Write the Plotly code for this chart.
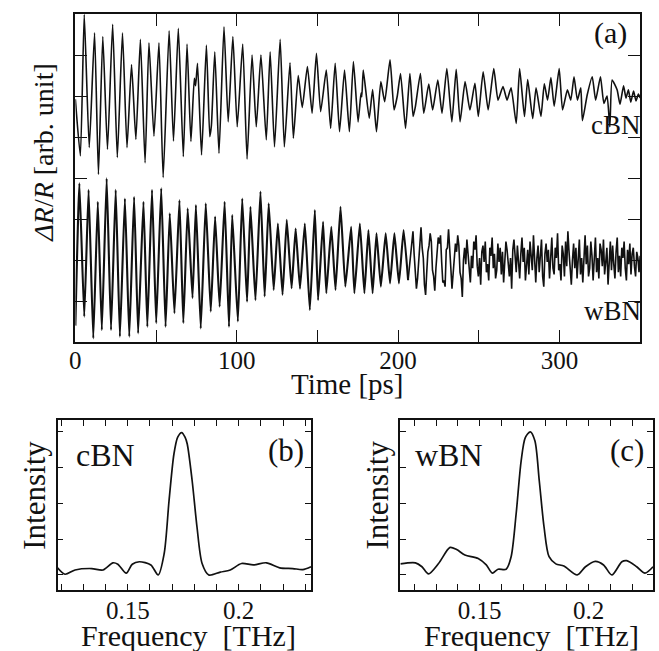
import plotly.graph_objects as go

# ---------------- data ----------------
# (a) time-domain traces, delta R / R (arb. units, tick spacing = 1)
cbn_t = [0.0, 3.1, 5.5, 8.6, 11.9, 14.3, 17.0, 19.9, 23.1, 26.0,
         29.2, 32.0, 34.8, 37.5, 40.3, 43.2, 45.6, 48.7, 51.8, 54.4,
         58.1, 60.8, 63.8, 66.9, 69.2, 71.6, 73.7, 74.5, 75.7, 78.2,
         81.2, 83.3, 84.3, 86.4, 89.0, 92.1, 94.7, 97.6, 100.3, 103.7,
         106.4, 109.5, 112.1, 115.0, 118.3, 120.7, 123.4, 126.9, 129.5, 133.0,
         135.1, 138.1, 140.6, 143.8, 146.7, 149.4, 152.0, 155.5, 158.2, 161.0,
         163.7, 166.8, 169.8, 172.3, 175.2, 177.0, 177.5, 178.4, 182.1, 184.2,
         186.6, 189.3, 191.7, 195.0, 197.5, 199.5, 201.5, 204.6, 207.3, 209.3,
         210.7, 213.8, 215.9, 219.0, 221.4, 224.6, 227.2, 230.2, 233.3, 236.0,
         238.4, 241.5, 244.5, 247.6, 249.7, 252.7, 255.8, 259.3, 261.9, 265.0,
         267.5, 270.0, 273.2, 275.3, 278.3, 280.3, 283.4, 285.5, 288.5, 290.6,
         292.6, 294.7, 296.7, 299.8, 301.9, 304.9, 307.0, 309.0, 311.1, 313.2,
         314.2, 317.2, 320.3, 322.4, 325.4, 327.5, 329.5, 331.2, 332.6, 335.7,
         337.5, 339.7, 341.2, 342.7, 344.2, 345.9, 347.4, 348.9, 350.0]
cbn_v = [-0.08, -1.46, 1.99, -1.26, 1.54, -1.91, 1.45, -1.30, 1.75, -1.50,
         1.54, -1.26, 0.77, -1.06, 1.38, -1.63, 1.30, -0.98, 1.30, -1.99,
         1.59, -1.10, 1.65, -1.48, 1.27, -1.11, 0.43, 0.25, 0.80, -1.44,
         1.24, -0.99, -0.72, 1.08, -1.40, 1.69, -0.63, 1.45, -0.75, 1.27,
         -1.54, 1.00, -0.75, 1.00, -1.07, 1.08, -1.24, 1.38, -1.24, 0.81,
         -1.03, 0.50, -0.28, 0.72, -0.42, 1.04, -0.38, 0.63, -0.79, 0.80,
         -0.87, 0.63, -0.87, 0.84, -0.63, 0.07, -0.02, 0.63, -0.54, 0.16,
         -0.87, 0.35, -0.14, 0.88, -0.34, 0.00, 0.55, -0.79, 0.55, -0.50,
         -0.26, 0.55, -0.42, 0.29, -0.34, 0.39, -0.42, 0.67, -0.63, 0.65,
         -0.63, 0.35, -0.34, 0.31, -0.50, 0.59, -0.34, 0.67, -0.10, 0.23,
         -0.10, 0.20, -0.67, 0.67, -0.50, 0.40, -0.55, 0.20, -0.50, 0.30,
         -0.10, 0.45, -0.25, 0.67, -0.34, 0.15, -0.10, 0.47, -0.10, 0.20,
         -0.60, 0.03, 0.47, -0.10, 0.47, -0.18, 0.00, -0.75, 0.39, 0.15,
         -0.20, 0.25, -0.05, 0.15, -0.15, 0.12, -0.12, 0.05, -0.05]

wbn_t = [0.0, 2.5, 5.5, 8.2, 11.1, 13.9, 16.4, 19.4, 22.1, 25.0,
         27.6, 30.7, 33.4, 36.4, 38.9, 42.2, 44.6, 47.5, 50.1, 53.2,
         55.9, 58.5, 61.4, 64.5, 66.9, 69.6, 72.6, 74.7, 77.7, 80.8,
         83.9, 86.6, 89.4, 92.5, 95.2, 97.2, 100.7, 103.4, 106.4, 108.5,
         111.6, 114.7, 117.3, 119.8, 122.9, 125.5, 128.4, 131.0, 134.0, 136.5,
         139.2, 142.2, 145.3, 148.4, 150.4, 153.5, 155.5, 158.6, 161.2, 164.3,
         167.3, 170.9, 172.9, 176.3, 179.1, 181.6, 184.2, 186.6, 189.3, 192.3,
         195.0, 197.7, 200.5, 203.4, 206.2]
wbn_v = [-1.60, 1.87, -1.38, 1.71, -1.91, 1.42, -1.71, 1.99, -1.71, 1.71,
         -1.87, 1.50, -1.87, 1.54, -1.79, 1.42, -1.63, 1.71, -1.54, 1.75,
         -1.63, 1.14, -1.30, 1.46, -1.54, 1.26, -0.93, 1.34, -1.67, 1.38,
         -1.26, 1.06, -1.14, 1.42, -1.63, 1.10, -1.50, 1.50, -1.02, 1.30,
         -0.98, 1.67, -0.89, 1.38, -0.73, 0.89, -0.85, 0.98, -0.69, 0.77,
         -0.70, 0.89, -1.22, 1.22, -0.98, 0.93, -0.81, 0.81, -0.73, 1.30,
         -0.65, 0.81, -0.81, 0.89, -0.81, 0.73, -0.81, 0.65, -0.65, 0.65,
         -0.57, 0.65, -0.57, 0.73, -0.49]
# noisy tail of the wBN trace (208.5 ps to 350 ps, evenly sampled)
wbn_tail_start, wbn_tail_end = 208.5, 350.0
wbn_tail_v = [0.55, 0.70, 0.15, -0.35, -0.70, -0.45, -0.10, 0.45,
              0.80, 0.30, 0.05, -0.60, -0.85, -0.30, 0.20, 0.35,
              0.65, 0.45, -0.25, -0.40, -0.75, -0.20, 0.10, 0.55,
              0.40, 0.60, -0.05, -0.55, -0.50, -0.65, 0.25, 0.30,
              0.75, 0.10, -0.20, -0.70, -0.40, -0.10, 0.40, 0.20,
              0.60, 0.35, -0.30, -0.45, -0.90, 0.00,
              0.30, -0.10, 0.50, 0.15, -0.35, -0.55, 0.10, -0.20,
              0.45, 0.25, 0.60, -0.15, -0.40, 0.05, -0.60, 0.20,
              0.35, -0.05, 0.45, -0.30, -0.10, -0.50, 0.30, 0.10,
              0.55, -0.20, 0.15, -0.45, -0.25, 0.40, -0.05, 0.30,
              -0.35, 0.20, -0.55, 0.10, 0.45, 0.25, -0.15, -0.40,
              0.05, -0.70, 0.25, 0.50, 0.10, -0.30, 0.35, -0.20,
              -0.45, 0.15, 0.55, -0.05, 0.30, -0.50, -0.15, 0.25,
              -0.35, 0.45, 0.10, -0.25, 0.60, -0.10, -0.55, 0.05,
              0.35, -0.30, 0.20, 0.50, -0.40, -0.65, 0.15, 0.40,
              -0.05, 0.25, -0.45, 0.10, 0.55, -0.20, -0.35, 0.30,
              0.05, 0.65, -0.25, -0.10, -0.50, 0.35, 0.15, -0.40,
              0.45, -0.15, 0.70, 0.20, -0.30, -0.60, 0.00, 0.40,
              -0.20, 0.30, -0.45, 0.15, 0.50, -0.35, 0.05, -0.55,
              0.25, 0.60, -0.10, 0.35, -0.40, -0.20, 0.45, 0.10,
              -0.50, 0.20, 0.55, -0.30, 0.05, -0.45, 0.40, 0.25,
              -0.15, 0.50, -0.35, -0.05, 0.30, -0.60, 0.15, 0.45,
              -0.25, 0.35, -0.10, -0.45, 0.20, 0.55, -0.30, 0.10,
              -0.40, 0.30, 0.05, 0.45, -0.20, -0.50, 0.25, -0.10,
              0.40, -0.35, 0.15, 0.30, -0.15, -0.40, 0.20, 0.05,
              -0.30, 0.10]

# (b) cBN spectrum
cbn_freq = [0.1183, 0.1217, 0.1262, 0.1337, 0.1388, 0.1433, 0.1455, 0.1493, 0.1520, 0.1552,
            0.1604, 0.1637, 0.1664, 0.1686, 0.1708, 0.1725, 0.1743, 0.1758, 0.1768, 0.1790,
            0.1812, 0.1835, 0.1865, 0.1917, 0.1962, 0.2013, 0.2066, 0.2125, 0.2185, 0.2244,
            0.2289, 0.2326]
cbn_int = [0.20, 0.02, 0.14, 0.18, 0.14, 0.34, 0.30, 0.05, 0.30, 0.37,
           0.28, 0.00, 0.60, 2.08, 3.38, 3.85, 3.98, 3.85, 3.66, 2.64,
           1.34, 0.32, 0.00, 0.08, 0.14, 0.32, 0.28, 0.34, 0.20, 0.18,
           0.15, 0.23]

# (c) wBN spectrum
wbn_freq = [0.1136, 0.1205, 0.1235, 0.1265, 0.1311, 0.1364, 0.1394, 0.1432, 0.1493, 0.1530,
            0.1558, 0.1584, 0.1621, 0.1644, 0.1667, 0.1690, 0.1709, 0.1732, 0.1753, 0.1773,
            0.1795, 0.1818, 0.1849, 0.1886, 0.1947, 0.1985, 0.2030, 0.2068, 0.2106, 0.2152,
            0.2174, 0.2220, 0.2258, 0.2295]
wbn_int = [0.31, 0.34, 0.23, 0.03, 0.32, 0.77, 0.71, 0.56, 0.46, 0.28,
           0.05, 0.16, 0.16, 0.51, 1.71, 3.19, 3.84, 4.00, 3.75, 2.64,
           1.34, 0.51, 0.31, 0.25, 0.00, 0.23, 0.38, 0.28, 0.00, 0.37,
           0.40, 0.23, 0.05, 0.23]

time_ticks = [0, 50, 100, 150, 200, 250, 300]
time_labels = ["0", "", "100", "", "200", "", "300"]
freq_ticks = [0.12, 0.13, 0.14, 0.15, 0.16, 0.17, 0.18, 0.19, 0.20, 0.21, 0.22, 0.23]
freq_labels = ["", "", "", "0.15", "", "", "", "", "0.2", "", "", ""]

# ---------------- figure ----------------
W, H = 659, 651
FONT = "Liberation Serif, Times New Roman, serif"
INK = "#111111"

n_tail = len(wbn_tail_v)
tail_t = [wbn_tail_start + i * (wbn_tail_end - wbn_tail_start) / (n_tail - 1) for i in range(n_tail)]

CBN_OFF, WBN_OFF = 6, 2

fig = go.Figure()
fig.add_trace(go.Scatter(x=cbn_t, y=[v + CBN_OFF for v in cbn_v], mode="lines",
                         line=dict(color=INK, width=1.6, shape="spline", smoothing=0.5),
                         xaxis="x", yaxis="y", showlegend=False, hoverinfo="skip"))
fig.add_trace(go.Scatter(x=wbn_t, y=[v + WBN_OFF for v in wbn_v], mode="lines",
                         line=dict(color=INK, width=2.1, shape="spline", smoothing=0.4),
                         xaxis="x", yaxis="y", showlegend=False, hoverinfo="skip"))
fig.add_trace(go.Scatter(x=[wbn_t[-1]] + tail_t, y=[v + WBN_OFF for v in [wbn_v[-1]] + wbn_tail_v],
                         mode="lines", line=dict(color=INK, width=1.6),
                         xaxis="x", yaxis="y", showlegend=False, hoverinfo="skip"))
fig.add_trace(go.Scatter(x=cbn_freq, y=cbn_int, mode="lines",
                         line=dict(color=INK, width=1.7, shape="spline", smoothing=0.8),
                         xaxis="x2", yaxis="y2", showlegend=False, hoverinfo="skip"))
fig.add_trace(go.Scatter(x=wbn_freq, y=wbn_int, mode="lines",
                         line=dict(color=INK, width=1.7, shape="spline", smoothing=0.8),
                         xaxis="x3", yaxis="y3", showlegend=False, hoverinfo="skip"))


def px_x(X):
    return X / W


def px_y(Y):
    return 1 - Y / H


common = dict(showline=True, linecolor=INK, linewidth=1.5, mirror="ticks", ticks="inside",
              tickcolor=INK, tickwidth=1.3, showgrid=False, zeroline=False,
              tickfont=dict(family=FONT, size=25, color=INK))

fig.update_layout(
    width=W, height=H, margin=dict(l=0, r=0, t=0, b=0),
    paper_bgcolor="white", plot_bgcolor="white",
    xaxis=dict(domain=[px_x(70), px_x(640)], range=[0, 350], anchor="y",
               tickvals=time_ticks, ticktext=time_labels, ticklen=12,
               ticklabelstandoff=-5, **common),
    yaxis=dict(domain=[px_y(342), px_y(14)], range=[0, 8], anchor="x",
               tickvals=[1, 2, 3, 4, 5, 6, 7], showticklabels=False, ticklen=12, **common),
    xaxis2=dict(domain=[px_x(52), px_x(308)], range=[0.1183, 0.2327], anchor="y2",
                tickvals=freq_ticks, ticktext=freq_labels, ticklen=6,
                ticklabelstandoff=-3, **common),
    yaxis2=dict(domain=[px_y(590), px_y(420)], range=[-0.42, 4.33], anchor="x2",
                tickvals=[0, 1, 2, 3, 4], showticklabels=False, ticklen=6, **common),
    xaxis3=dict(domain=[px_x(398), px_x(653)], range=[0.1136, 0.2295], anchor="y3",
                tickvals=freq_ticks, ticktext=freq_labels, ticklen=6,
                ticklabelstandoff=-3, **common),
    yaxis3=dict(domain=[px_y(590), px_y(420)], range=[-0.42, 4.33], anchor="x3",
                tickvals=[0, 1, 2, 3, 4], showticklabels=False, ticklen=6, **common),
)


def label(text, X, Y, size, angle=0):
    fig.add_annotation(text=text, x=px_x(X), y=px_y(Y), xref="paper", yref="paper",
                       showarrow=False, xanchor="center", yanchor="middle", textangle=angle,
                       borderpad=0, font=dict(family=FONT, size=size, color=INK))


label("Time [ps]", 345, 384, 29)
label("<i>ΔR</i>/<i>R</i> [arb. unit]", 37, 153, 28, -90)
label("(a)", 610, 33, 30)
label("cBN", 616, 125, 27)
label("wBN", 612, 311, 27)
label("Intensity", 28, 495, 31, -90)
label("Intensity", 374, 495, 31, -90)
label("Frequency  [THz]", 184, 635, 30)
label("Frequency  [THz]", 530, 635, 30)
label("cBN", 100, 455, 32)
label("(b)", 283, 450, 31)
label("wBN", 447, 455, 32)
label("(c)", 627, 450, 31)

fig.write_html("out.html", config={"displayModeBar": False},
               post_script="document.body.style.margin='0px';")
